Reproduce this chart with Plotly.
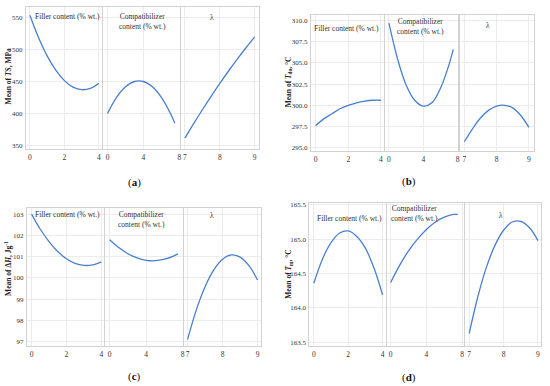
import plotly.graph_objects as go

W, H = 550, 386

# ---------------- data ----------------
filler_x = [0, 0.5, 1, 1.5, 2, 2.5, 3, 3.5, 4]
compat_x = [0, 1, 2, 3, 4, 5, 6, 7, 7.5]
lambda_x = [7, 7.25, 7.5, 7.75, 8, 8.25, 8.5, 8.75, 9]

ts_filler = [554, 519.1, 490.3, 467.8, 451.4, 441.1, 437.1, 439.2, 447.4]
ts_compat = [400, 425, 441.6, 450, 450, 441.6, 425, 400, 384.4]
ts_lambda = [361, 383.7, 405.6, 426.7, 447, 466.5, 485.1, 503.0, 520]

tdo_filler = [297.6, 298.4, 299.0, 299.6, 300.0, 300.3, 300.5, 300.6, 300.6]
tdo_compat = [309.7, 305.5, 302.4, 300.6, 299.9, 300.3, 302.0, 304.8, 306.6]
tdo_lambda = [295.7, 297.2, 298.5, 299.4, 299.9, 300.0, 299.7, 298.8, 297.4]

dh_filler = [103.0, 102.29, 101.71, 101.24, 100.90, 100.68, 100.59, 100.61, 100.76]
dh_compat = [101.80, 101.43, 101.14, 100.94, 100.83, 100.81, 100.88, 101.03, 101.14]
dh_lambda = [97.11, 98.50, 99.59, 100.38, 100.88, 101.08, 100.98, 100.59, 99.90]

tm_filler = [164.36, 164.71, 164.95, 165.09, 165.12, 165.04, 164.87, 164.58, 164.19]
tm_compat = [164.37, 164.62, 164.83, 165.00, 165.14, 165.25, 165.32, 165.36, 165.36]
tm_lambda = [163.63, 164.16, 164.59, 164.91, 165.13, 165.25, 165.26, 165.17, 164.98]

facet_titles = ["Filler content (% wt.)", "Compatibilizer<br>content (% wt.)", "λ"]
x_ticks = [[0, 2, 4], [0, 4, 8], [7, 8, 9]]

y_titles = ["Mean of <i>TS</i>, MPa", "Mean of <i>T</i><sub>do</sub>, °C",
            "Mean of Δ<i>H</i>, Jg<sup>-1</sup>", "Mean of <i>T</i><sub>m</sub>, °C"]
y_ticks = [[350, 400, 450, 500, 550],
           [295.0, 297.5, 300.0, 302.5, 305.0, 307.5, 310.0],
           [97, 98, 99, 100, 101, 102, 103],
           [163.5, 164.0, 164.5, 165.0, 165.5]]
y_ticktext = [["350", "400", "450", "500", "550"],
              ["295.0", "297.5", "300.0", "302.5", "305.0", "307.5", "310.0"],
              ["97", "98", "99", "100", "101", "102", "103"],
              ["163.5", "164.0", "164.5", "165.0", "165.5"]]
panel_labels = ["a", "b", "c", "d"]

series = [
    [(filler_x, ts_filler), (compat_x, ts_compat), (lambda_x, ts_lambda)],
    [(filler_x, tdo_filler), (compat_x, tdo_compat), (lambda_x, tdo_lambda)],
    [(filler_x, dh_filler), (compat_x, dh_compat), (lambda_x, dh_lambda)],
    [(filler_x, tm_filler), (compat_x, tm_compat), (lambda_x, tm_lambda)],
]

# ---------------- layout geometry (pixels) ----------------
# panel: L, R, T, B, divider1, divider2
geom = [
    (26, 259.5, 5, 148, 103, 181),
    (312, 536, 13, 150.5, 386, 460.7),
    (27, 262, 208, 346.5, 105, 184),
    (310.5, 543, 203, 346.5, 388, 466),
]
x_ranges = [
    [[-0.23, 4.17], [-0.47, 8.03], [6.89, 9.11]],
    [[-0.29, 4.18], [-0.42, 8.08], [6.86, 9.16]],
    [[-0.27, 4.15], [-0.47, 8.0], [6.9, 9.1]],
    [[-0.26, 4.19], [-0.37, 8.15], [6.88, 9.09]],
]
y_ranges = [[344.2, 567.1], [294.57, 310.67], [96.81, 103.27], [163.45, 165.52]]
ytitle_pos = [(8, 74), (290, 80), (8, 268), (290, 274)]
label_pos = [(135, 182), (410, 181), (135, 377), (410, 378)]
ftitle_pos = [
    [(68, 15), (143, 20), (213, 15.5)],
    [(348, 26.5), (422, 24.5), (490, 24)],
    [(67.5, 214), (142, 219), (213, 215)],
    [(350.5, 218), (416, 213), (502.5, 215)],
]


def px(x):
    return x / W


def py(y):
    return 1 - y / H


FONT = "Liberation Serif, Times New Roman, DejaVu Serif, serif"
LINE_COLOR = "#4a7fcf"
GRID = "#ececec"
BORDER = "#d2d2d2"

fig = go.Figure()
layout = dict(
    width=W, height=H, margin=dict(l=0, r=0, t=0, b=0),
    paper_bgcolor="white", plot_bgcolor="white", showlegend=False,
    font=dict(family=FONT, size=7, color="#333333"),
)
annotations = []
gap = 0.75
for p in range(4):
    L, R, T, B, d1, d2 = geom[p]
    edges = [(L, d1 - gap), (d1 + gap, d2 - gap), (d2 + gap, R)]
    for f in range(3):
        idx = p * 3 + f + 1
        xs, ys = series[p][f]
        fig.add_trace(go.Scatter(
            x=xs, y=ys, mode="lines", line=dict(color=LINE_COLOR, width=1.3, shape="spline"),
            xaxis=f"x{idx}", yaxis=f"y{idx}", hoverinfo="skip"))
        xa = dict(
            domain=[px(edges[f][0]), px(edges[f][1])], range=x_ranges[p][f],
            tickvals=x_ticks[f], showgrid=True, gridcolor=GRID, gridwidth=1,
            showline=True, mirror=True, linecolor=BORDER, linewidth=1,
            zeroline=False, ticks="", anchor=f"y{idx}",
            tickfont=dict(family=FONT, size=7.5, color="#333333"), ticklabelstandoff=1,
        )
        ya = dict(
            domain=[py(B), py(T)], range=y_ranges[p], tickvals=y_ticks[p],
            ticktext=y_ticktext[p], showgrid=True, gridcolor=GRID, gridwidth=1,
            showline=True, mirror=True, linecolor=BORDER, linewidth=1,
            zeroline=False, ticks="", anchor=f"x{idx}",
            showticklabels=(f == 0),
            tickfont=dict(family=FONT, size=7, color="#333333"), ticklabelstandoff=1,
        )
        key = "" if idx == 1 else str(idx)
        layout["xaxis" + key] = xa
        layout["yaxis" + key] = ya
        tx, ty = ftitle_pos[p][f]
        annotations.append(dict(
            x=px(tx), y=py(ty), xref="paper", yref="paper", text=facet_titles[f],
            showarrow=False, font=dict(family=FONT, size=7.5, color="#333333"),
            xanchor="center", yanchor="middle", align="center"))
    yx, yy = ytitle_pos[p]
    annotations.append(dict(
        x=px(yx), y=py(yy), xref="paper", yref="paper", text="<b>" + y_titles[p] + "</b>",
        showarrow=False, textangle=-90, font=dict(family=FONT, size=7.5, color="#222222"),
        xanchor="center", yanchor="middle"))
    lx, ly = label_pos[p]
    annotations.append(dict(
        x=px(lx), y=py(ly), xref="paper", yref="paper",
        text="(<b>" + panel_labels[p] + "</b>)", showarrow=False,
        font=dict(family=FONT, size=11, color="#111111"), xanchor="center", yanchor="middle"))

layout["annotations"] = annotations
fig.update_layout(**layout)
fig.write_html(
    "out.html",
    config={"displayModeBar": False},
    post_script="document.body.style.margin='0';document.body.style.overflow='hidden';",
)
